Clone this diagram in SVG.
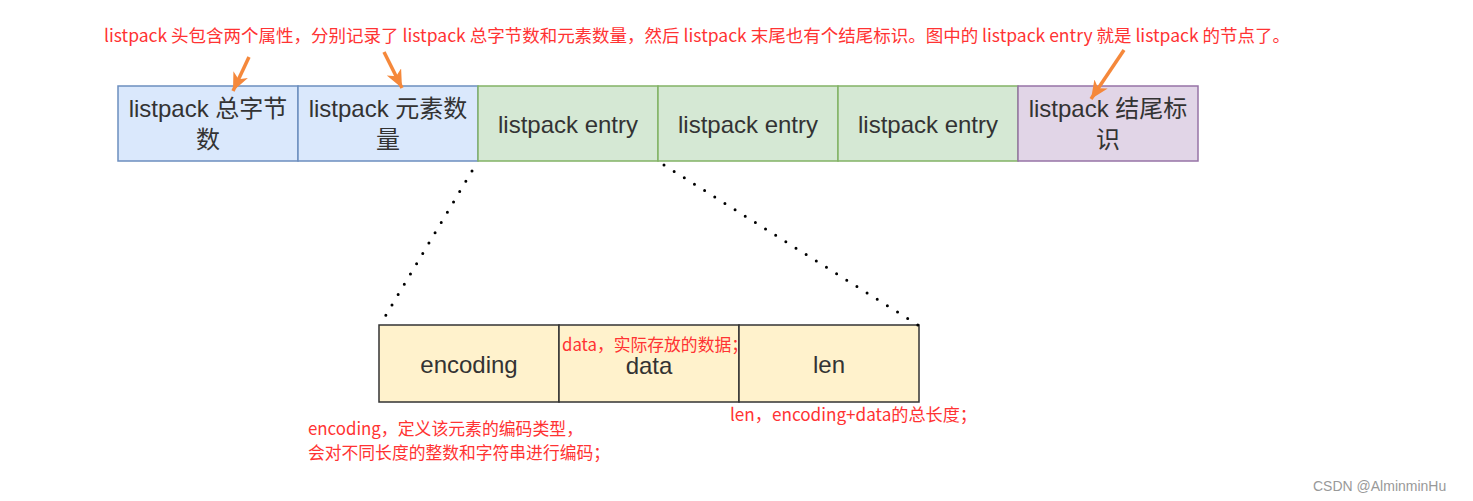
<svg xmlns="http://www.w3.org/2000/svg" width="1473" height="501" viewBox="0 0 1473 501">
<style>
.box{stroke-width:1.5}
.hdr{fill:#dae8fc;stroke:#6c8ebf}
.ent{fill:#d5e8d4;stroke:#82b366}
.end{fill:#e1d5e7;stroke:#9673a6}
.sub{fill:#fff2cc;stroke:#333333}
.lbl{font-family:"Liberation Sans","Noto Sans CJK SC",sans-serif;font-size:24px;fill:#333333;text-anchor:middle}
.note{font-family:"Noto Sans CJK SC","Liberation Sans",sans-serif;font-size:17.5px;fill:#ff3333}
.dot{fill:none;stroke:#000;stroke-width:3;stroke-linecap:round;stroke-dasharray:0 12}
.arr{fill:none;stroke:#f5883b;stroke-width:3.5;marker-end:url(#head)}
</style>
<defs>
<marker id="head" markerUnits="userSpaceOnUse" markerWidth="20" markerHeight="18" refX="18" refY="8" orient="auto"><path d="M0,0 L18,8 L0,16 L5,8 z" fill="#f5883b"/></marker>
</defs>
<rect width="1473" height="501" fill="#ffffff"/>
<g id="node-total-bytes"><rect class="box hdr" x="118" y="86" width="180" height="75"/><text class="lbl" x="208" y="117">listpack 总字节</text><text class="lbl" x="208" y="148">数</text></g>
<g id="node-num-elements"><rect class="box hdr" x="298" y="86" width="180" height="75"/><text class="lbl" x="388" y="117">listpack 元素数</text><text class="lbl" x="388" y="148">量</text></g>
<g id="node-entry1"><rect class="box ent" x="478" y="86" width="180" height="75"/><text class="lbl" x="568" y="133">listpack entry</text></g>
<g id="node-entry2"><rect class="box ent" x="658" y="86" width="180" height="75"/><text class="lbl" x="748" y="133">listpack entry</text></g>
<g id="node-entry3"><rect class="box ent" x="838" y="86" width="180" height="75"/><text class="lbl" x="928" y="133">listpack entry</text></g>
<g id="node-end"><rect class="box end" x="1018" y="86" width="180" height="75"/><text class="lbl" x="1108" y="117">listpack 结尾标</text><text class="lbl" x="1108" y="148">识</text></g>
<g id="node-encoding"><rect class="box sub" x="379" y="325" width="180" height="77"/><text class="lbl" x="469" y="373">encoding</text></g>
<g id="node-data"><rect class="box sub" x="559" y="325" width="180" height="77"/><text class="lbl" x="649" y="374">data</text></g>
<g id="node-len"><rect class="box sub" x="739" y="325" width="180" height="77"/><text class="lbl" x="829" y="373">len</text></g>
<g id="connectors">
<path class="dot" d="M472 171 L380 325"/>
<path class="dot" d="M664 165 L918 325"/>
<path class="arr" d="M249 57 L233 91"/>
<path class="arr" d="M384 52 L402 88"/>
<path class="arr" d="M1124 50 L1091 99"/>
</g>
<g id="notes">
<text class="note" x="104" y="42" textLength="1186" lengthAdjust="spacingAndGlyphs">listpack 头包含两个属性，分别记录了 listpack 总字节数和元素数量，然后 listpack 末尾也有个结尾标识。图中的 listpack entry 就是 listpack 的节点了。</text>
<text class="note" x="562" y="351" textLength="186" lengthAdjust="spacingAndGlyphs">data，实际存放的数据；</text>
<text class="note" x="730" y="421" textLength="247" lengthAdjust="spacingAndGlyphs">len，encoding+data的总长度；</text>
<text class="note" x="308" y="435" textLength="275" lengthAdjust="spacingAndGlyphs">encoding，定义该元素的编码类型，</text>
<text class="note" x="308" y="459" textLength="302" lengthAdjust="spacingAndGlyphs">会对不同长度的整数和字符串进行编码；</text>
</g>
<text x="1313" y="491" font-family="Liberation Sans,sans-serif" font-size="14" fill="#999999">CSDN @AlminminHu</text>
</svg>
